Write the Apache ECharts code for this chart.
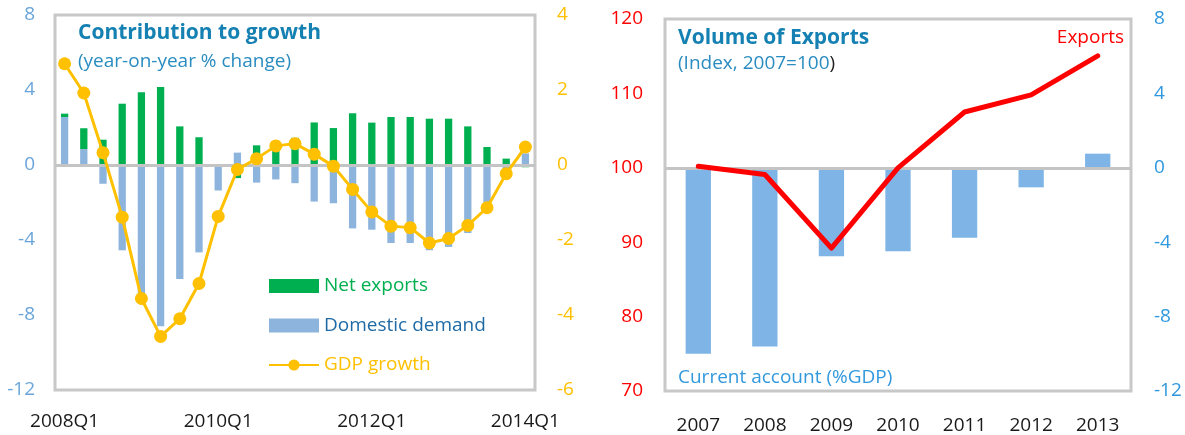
<!DOCTYPE html>
<html>
<head>
<meta charset="utf-8">
<script src="https://cdn.jsdelivr.net/npm/echarts@6/dist/echarts.min.js"></script>
<style>
html, body { margin: 0; padding: 0; background: #fff; }
#chart { width: 1185px; height: 435px; }
</style>
</head>
<body>
<div id="chart"></div>
<script>
// left panel: contribution to growth
var quarters = ['2008Q1', '2008Q2', '2008Q3', '2008Q4', '2009Q1', '2009Q2', '2009Q3', '2009Q4',
    '2010Q1', '2010Q2', '2010Q3', '2010Q4', '2011Q1', '2011Q2', '2011Q3', '2011Q4',
    '2012Q1', '2012Q2', '2012Q3', '2012Q4', '2013Q1', '2013Q2', '2013Q3', '2013Q4', '2014Q1'];
var domesticDemand = [2.56, 0.85, -1.0, -4.55, -7.2, -8.6, -6.08, -4.66, -1.36, 0.66, -0.94, -0.77, -0.97,
    -1.95, -2.04, -3.38, -3.45, -4.16, -4.16, -4.55, -4.37, -3.63, -2.1, -0.55, 0.62];
var netExports = [0.18, 1.11, 1.35, 3.27, 3.88, 4.16, 2.06, 1.48, 0, -0.7, 1.05, 1.27, 1.45,
    2.27, 1.97, 2.76, 2.26, 2.56, 2.56, 2.47, 2.47, 2.06, 0.96, 0.34, -0.12];
var gdpGrowth = [2.70, 1.92, 0.33, -1.39, -3.56, -4.57, -4.10, -3.16, -1.37, -0.12, 0.17, 0.51, 0.57,
    0.29, -0.03, -0.65, -1.25, -1.63, -1.67, -2.08, -1.96, -1.61, -1.14, -0.23, 0.48];

// right panel: volume of exports
var years = ['2007', '2008', '2009', '2010', '2011', '2012', '2013'];
var exportsIndex = [100.2, 99.1, 89.2, 100.0, 107.5, 109.8, 115.05];
var currentAccount = [-10.0, -9.61, -4.76, -4.48, -3.76, -1.05, 0.76];

var FONT = 'Open Sans';
var titleBlue = '#1580b2';

var dom = document.getElementById('chart');
var myChart = echarts.init(dom, null, { renderer: 'canvas' });

var zeroLine = {
    silent: true,
    symbol: 'none',
    label: { show: false },
    lineStyle: { color: '#c4c4c4', width: 3, type: 'solid' },
    data: [{ yAxis: 0 }]
};

var option = {
    animation: false,
    textStyle: { fontFamily: FONT },
    title: [
        { text: 'Contribution to growth', left: 78, top: 21, padding: 0,
          textStyle: { color: titleBlue, fontSize: 21, fontWeight: 'bold', lineHeight: 24, fontFamily: FONT } },
        { text: '(year-on-year % change)', left: 78, top: 51, padding: 0,
          textStyle: { color: '#2a8cc0', fontSize: 19, fontWeight: 'normal', lineHeight: 22, fontFamily: FONT } },
        { text: 'Volume of Exports', left: 678, top: 26, padding: 0,
          textStyle: { color: titleBlue, fontSize: 21, fontWeight: 'bold', lineHeight: 24, fontFamily: FONT } },
        { text: '{a|(Index, 2007=100}{b|)}', left: 678, top: 53, padding: 0,
          textStyle: {
              fontWeight: 'normal',
              rich: {
                  a: { color: '#2a8cc0', fontSize: 19, fontWeight: 'normal', fontFamily: FONT, lineHeight: 22 },
                  b: { color: '#222', fontSize: 19, fontWeight: 'normal', fontFamily: FONT, lineHeight: 22 }
              }
          } },
        { text: 'Exports', right: 1185 - 1124, top: 27, padding: 0,
          textStyle: { color: '#ff0000', fontSize: 19, fontWeight: 'normal', lineHeight: 22, fontFamily: FONT } },
        { text: 'Current account (%GDP)', left: 678, top: 367, padding: 0,
          textStyle: { color: '#3399dd', fontSize: 19, fontWeight: 'normal', lineHeight: 22, fontFamily: FONT } }
    ],
    legend: {
        orient: 'vertical',
        left: 268,
        top: 276,
        padding: 0,
        itemWidth: 50,
        itemHeight: 14,
        itemGap: 19.5,
        textStyle: { fontSize: 19, lineHeight: 20, fontFamily: FONT },
        data: [
            { name: 'Net exports', icon: 'rect', textStyle: { color: '#00b050' } },
            { name: 'Domestic demand', icon: 'rect', textStyle: { color: '#1f6aa5' } },
            { name: 'GDP growth', textStyle: { color: '#ffc000' } }
        ]
    },
    grid: [
        { left: 55, top: 15, width: 480, height: 375, show: true,
          borderColor: '#c8c8c8', borderWidth: 3, backgroundColor: 'transparent' },
        { left: 665, top: 19, width: 466, height: 374, show: true,
          borderColor: '#c8c8c8', borderWidth: 3, backgroundColor: 'transparent' }
    ],
    xAxis: [
        { type: 'category', gridIndex: 0, data: quarters,
          axisLine: { show: false }, axisTick: { show: false },
          axisLabel: { interval: 7, margin: 22, color: '#1a1a1a', fontSize: 19, fontFamily: FONT } },
        { type: 'category', gridIndex: 1, data: years,
          axisLine: { show: false }, axisTick: { show: false },
          axisLabel: { margin: 25, color: '#1a1a1a', fontSize: 19, fontFamily: FONT } }
    ],
    yAxis: [
        { type: 'value', gridIndex: 0, min: -12, max: 8, interval: 4,
          splitLine: { show: false }, axisLine: { show: false }, axisTick: { show: false },
          axisLabel: { margin: 20, color: '#6aa5da', fontSize: 19, fontFamily: FONT } },
        { type: 'value', gridIndex: 0, min: -6, max: 4, interval: 2, position: 'right',
          splitLine: { show: false }, axisLine: { show: false }, axisTick: { show: false },
          axisLabel: { margin: 22, color: '#ffc000', fontSize: 19, fontFamily: FONT } },
        { type: 'value', gridIndex: 1, min: 70, max: 120, interval: 10,
          splitLine: { show: false }, axisLine: { show: false }, axisTick: { show: false },
          axisLabel: { margin: 22, color: '#ff0000', fontSize: 19, fontFamily: FONT } },
        { type: 'value', gridIndex: 1, min: -12, max: 8, interval: 4, position: 'right',
          splitLine: { show: false }, axisLine: { show: false }, axisTick: { show: false },
          axisLabel: { margin: 23, color: '#2f97de', fontSize: 19, fontFamily: FONT } }
    ],
    series: [
        {
            name: 'Domestic demand',
            type: 'bar',
            xAxisIndex: 0, yAxisIndex: 0,
            stack: 'contrib',
            barWidth: '38%',
            itemStyle: { color: '#8db4dc' },
            data: domesticDemand,
            markLine: zeroLine
        },
        {
            name: 'Net exports',
            type: 'bar',
            xAxisIndex: 0, yAxisIndex: 0,
            stack: 'contrib',
            barWidth: '38%',
            itemStyle: { color: '#00b050' },
            data: netExports
        },
        {
            name: 'GDP growth',
            type: 'line',
            xAxisIndex: 0, yAxisIndex: 1,
            symbol: 'circle',
            symbolSize: 13,
            showAllSymbol: true,
            itemStyle: { color: '#ffc000' },
            lineStyle: { color: '#ffc000', width: 3 },
            data: gdpGrowth,
            z: 5
        },
        {
            name: 'Current account',
            type: 'bar',
            xAxisIndex: 1, yAxisIndex: 3,
            barWidth: '38%',
            itemStyle: { color: '#7eb4e6' },
            data: currentAccount,
            markLine: zeroLine
        },
        {
            name: 'Exports',
            type: 'line',
            xAxisIndex: 1, yAxisIndex: 2,
            symbol: 'none',
            lineStyle: { color: '#ff0000', width: 5, cap: 'round', join: 'round' },
            data: exportsIndex,
            z: 5
        }
    ]
};

if (option && typeof option === 'object') {
    myChart.setOption(option);
}
</script>
</body>
</html>
